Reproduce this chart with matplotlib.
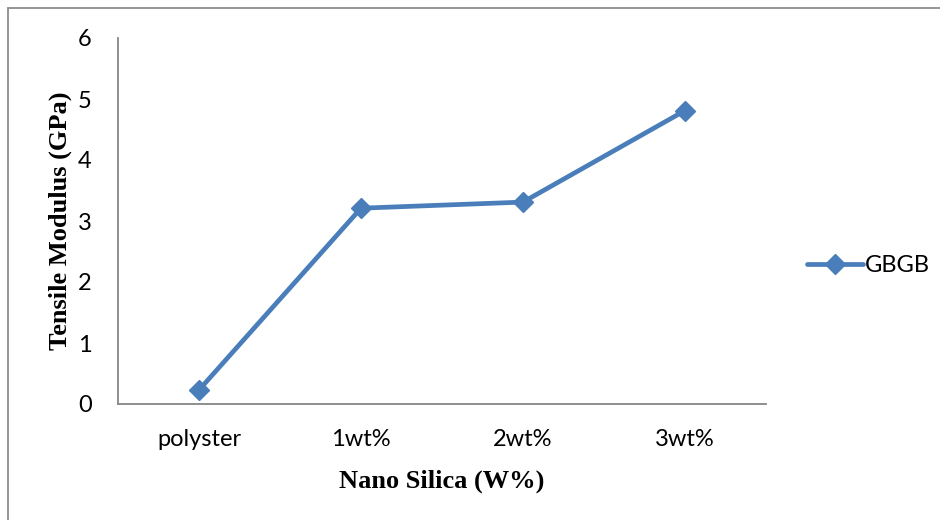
import matplotlib.pyplot as plt
from matplotlib.patches import Rectangle

# Données
categories = ["polyster", "1wt%", "2wt%", "3wt%"]
module = [0.23, 3.21, 3.31, 4.81]
serie = "GBGB"

fig = plt.figure(figsize=(9.4, 5.2), dpi=100)
ax = fig.add_axes([118 / 940, 1 - 404 / 520, (766 - 118) / 940, (404 - 38) / 520])

x = list(range(len(categories)))
ax.plot(x, module, color="#4A7EBB", lw=3.4, marker="D", markersize=10,
        solid_capstyle="round", label=serie)

ax.set_xlim(-0.5, len(categories) - 0.5)
ax.set_ylim(0, 6)
ax.set_xticks(x)
ax.set_xticklabels(categories)
ax.set_yticks(range(0, 7))
ax.tick_params(length=0, labelsize=17)
for lab in ax.get_xticklabels() + ax.get_yticklabels():
    lab.set_family("Lato")
ax.tick_params(axis="x", pad=18)
ax.tick_params(axis="y", pad=19)

for s in ["top", "right"]:
    ax.spines[s].set_visible(False)
for s in ["left", "bottom"]:
    ax.spines[s].set_color("#868686")
    ax.spines[s].set_linewidth(1.3)

ax.set_xlabel("Nano Silica (W%)", family="Liberation Serif", fontweight="bold",
              fontsize=19, labelpad=14)
ax.set_ylabel("Tensile Modulus (GPa)", family="Liberation Serif", fontweight="bold",
              fontsize=19, labelpad=4)

leg = ax.legend(loc="center left", bbox_to_anchor=(1.03, (404 - 266) / 366), frameon=False,
                prop={"family": "Lato", "size": 17}, handlelength=2.4,
                handletextpad=0.05)

# cadre autour de la figure
fig.patches.append(Rectangle((8 / 940, -0.1), 1.2, 1.1 - 8 / 520, transform=fig.transFigure,
                             fill=False, edgecolor="#8C8C8C", lw=1.3))

fig.savefig("out.png", dpi=100)
